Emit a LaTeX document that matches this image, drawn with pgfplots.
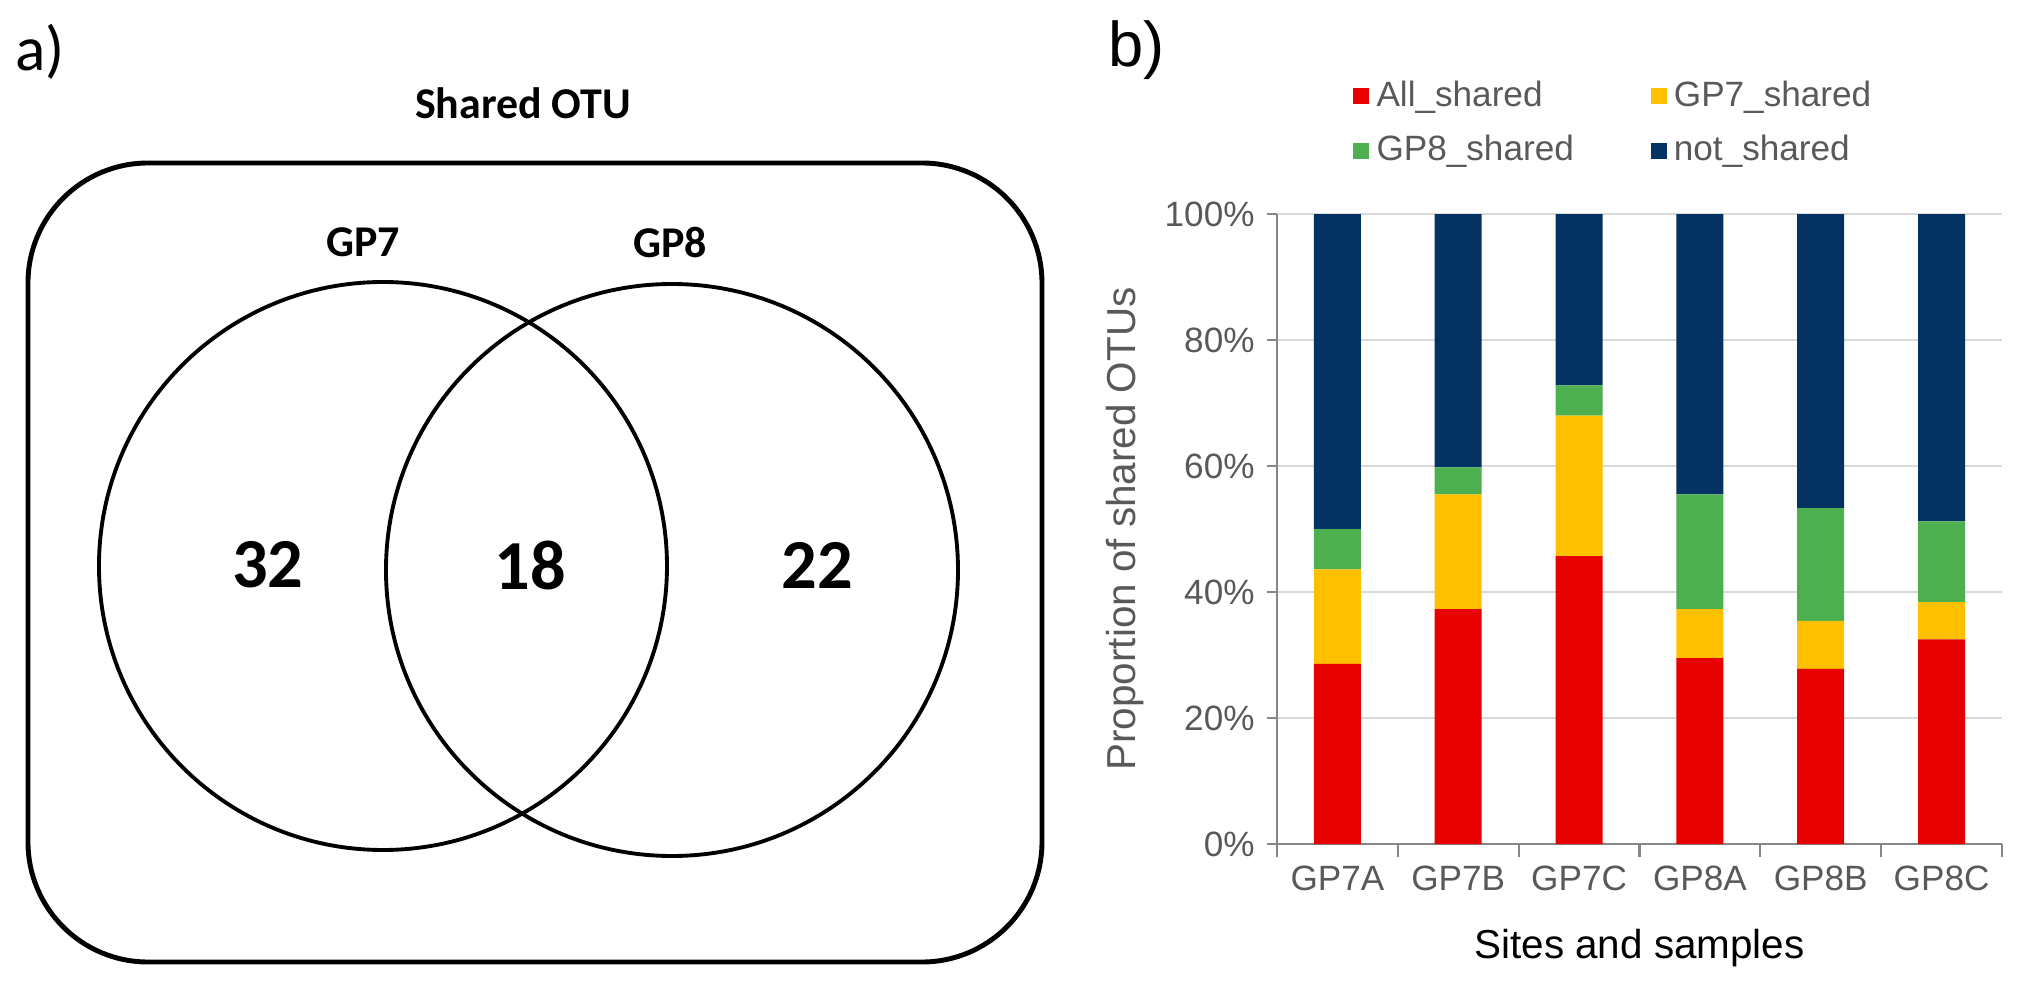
\documentclass[border=0pt]{standalone}
\usepackage{pgfplots}
\pgfplotsset{compat=1.18}
\usepackage{pgfplotstable}
\usepackage{fontspec}
\setmainfont{Liberation Sans}
\newfontfamily\calibri{Carlito}

\definecolor{allred}{HTML}{E60000}
\definecolor{gpyellow}{HTML}{FFC000}
\definecolor{gpgreen}{HTML}{4CAF50}
\definecolor{navy}{HTML}{033263}
\definecolor{axisgray}{HTML}{868686}
\definecolor{gridgray}{HTML}{D9D9D9}
\definecolor{labelgray}{HTML}{595959}

% share of OTUs per sample (%)
\pgfplotstableread{
x  all   gp7   gp8   nots
0  28.6  15.0  6.4   50.0
1  37.3  18.2  4.3   40.2
2  45.7  22.3  4.8   27.2
3  29.5  7.8   18.2  44.5
4  27.8  7.6   17.9  46.7
5  32.5  5.9   12.8  48.8
}\shared

\begin{document}
\begin{tikzpicture}
% the axis sits at the origin; everything else is placed in page coordinates shifted by it
\begin{scope}[shift={(-12.77,-1.43)}]
\useasboundingbox (0,0) rectangle (20.18,9.87);

% a) Venn diagram
\node[anchor=west, inner sep=0, font=\calibri\fontsize{18}{20}\selectfont] at (0.15,9.35) {a)};
\node[font=\calibri\bfseries\fontsize{12.5}{15}\selectfont] at (5.23,8.84) {Shared OTU};
\draw[line width=1.4pt, rounded corners=1.2cm] (0.28,0.25) rectangle (10.42,8.24);
\draw[line width=1.1pt] (3.83,4.21) circle (2.84cm);
\draw[line width=1.1pt] (6.72,4.17) circle (2.86cm);
\node[font=\calibri\bfseries\fontsize{12.5}{15}\selectfont] at (3.63,7.45) {GP7};
\node[font=\calibri\bfseries\fontsize{12.5}{15}\selectfont] at (6.70,7.45) {GP8};
\node[font=\calibri\bfseries\fontsize{20}{24}\selectfont] at (2.68,4.22) {32};
\node[font=\calibri\bfseries\fontsize{20}{24}\selectfont] at (5.30,4.22) {18};
\node[font=\calibri\bfseries\fontsize{20}{24}\selectfont] at (8.17,4.22) {22};

% b) label
\node[anchor=west, inner sep=0, font=\fontsize{18}{20}\selectfont] at (11.08,9.37) {b)};
\end{scope}

\begin{axis}[
    anchor=south west,
    scale only axis, width=7.25cm, height=6.3cm,
    ybar stacked, bar width=0.47cm,
    xmin=-0.5, xmax=5.5, ymin=0, ymax=100,
    xtick={0,...,5},
    xticklabels={GP7A,GP7B,GP7C,GP8A,GP8B,GP8C},
    minor xtick={-0.5,0.5,...,5.5},
    major x tick style={draw=none},
    ytick={0,20,...,100},
    yticklabel={\pgfmathprintnumber{\tick}\%},
    /pgf/number format/assume math mode=true,
    axis x line*=bottom, axis y line*=left,
    axis line style={-, color=axisgray, line width=0.6pt},
    tick align=outside, major tick length=0.1cm, minor tick length=0.13cm,
    tick style={color=axisgray, line width=0.6pt},
    ymajorgrids, grid style={gridgray, line width=0.6pt},
    tick label style={font=\fontsize{10}{12}\selectfont, text=labelgray},
    xlabel={Sites and samples},
    xlabel style={at={(axis description cs:0.5,-0.165)}, anchor=center, font=\fontsize{11.5}{13}\selectfont, text=black},
    ylabel={Proportion of shared OTUs},
    ylabel style={at={(axis description cs:-0.21,0.5)}, anchor=center, font=\fontsize{11.5}{13}\selectfont, text=labelgray},
    legend columns=2,
    legend cell align=left,
    legend image code/.code={\draw[#1, draw=none] (0cm,-0.08cm) rectangle (0.16cm,0.08cm);},
    legend style={draw=none, fill=none, at={(0.09,1.235)}, anchor=north west,
        font=\fontsize{10}{12}\selectfont, text=labelgray, row sep=0.1cm,
        /tikz/every even column/.append style={column sep=0.7cm}},
]
\addplot[fill=allred, draw=none] table[x=x, y=all] {\shared};
\addlegendentry{All\_shared}
\addplot[fill=gpyellow, draw=none] table[x=x, y=gp7] {\shared};
\addlegendentry{GP7\_shared}
\addplot[fill=gpgreen, draw=none] table[x=x, y=gp8] {\shared};
\addlegendentry{GP8\_shared}
\addplot[fill=navy, draw=none] table[x=x, y=nots] {\shared};
\addlegendentry{not\_shared}
\end{axis}
\end{tikzpicture}
\end{document}
